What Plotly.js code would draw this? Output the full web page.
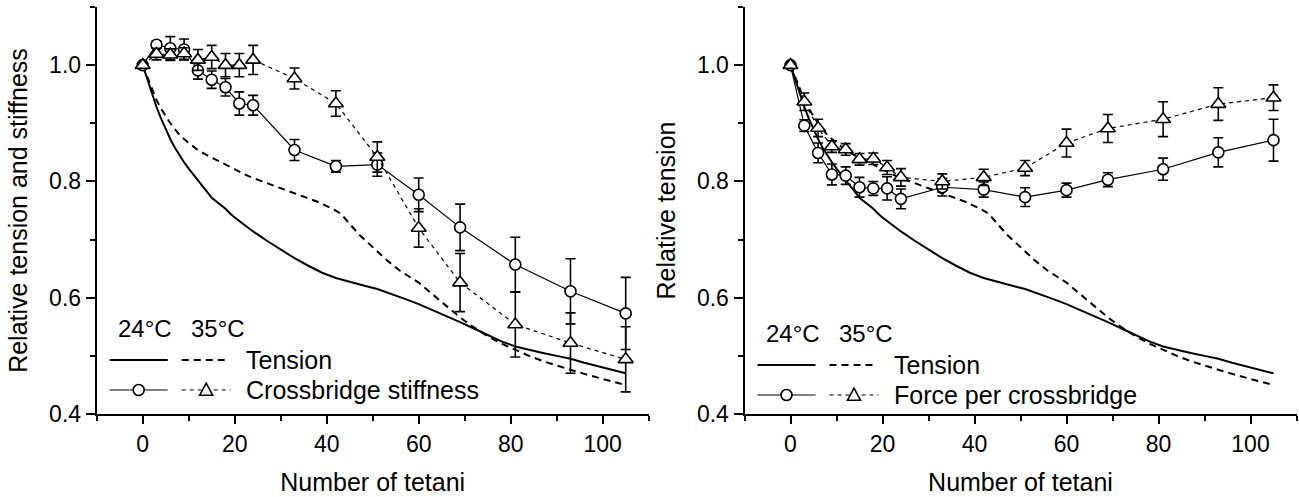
<!DOCTYPE html>
<html>
<head>
<meta charset="utf-8">
<script src="https://cdn.plot.ly/plotly-3.0.1.min.js"></script>
<style>html,body{margin:0;padding:0;background:#fff;}#chart{width:1299px;height:497px;}</style>
</head>
<body>
<div id="chart"></div>
<script>
// ---- data ----
const tetani = [0,3,6,9,12,15,18,21,24,33,42,51,60,69,81,93,105];

const stiffness24 = [1.0,1.035,1.029,1.027,0.991,0.975,0.962,0.934,0.931,0.854,0.826,0.829,0.777,0.721,0.657,0.611,0.573];
const stiffness24Err = [0.004,0.006,0.02,0.018,0.015,0.015,0.015,0.02,0.017,0.018,0.01,0.02,0.029,0.04,0.047,0.056,0.062];
const stiffness35 = [1.0,1.019,1.018,1.02,1.009,1.014,1.0,1.0,1.009,0.977,0.934,0.842,0.72,0.626,0.554,0.522,0.494];
const stiffness35Err = [0.004,0.01,0.01,0.01,0.018,0.02,0.02,0.02,0.025,0.018,0.022,0.026,0.033,0.05,0.056,0.052,0.056];

const force24 = [1.0,0.896,0.849,0.812,0.810,0.790,0.788,0.788,0.770,0.790,0.786,0.773,0.785,0.803,0.821,0.850,0.871];
const force24Err = [0.004,0.01,0.017,0.018,0.015,0.017,0.012,0.02,0.017,0.015,0.013,0.016,0.012,0.012,0.019,0.025,0.036];
const force35 = [1.0,0.937,0.892,0.86,0.855,0.838,0.839,0.824,0.807,0.80,0.807,0.823,0.866,0.891,0.907,0.933,0.944];
const force35Err = [0.004,0.015,0.015,0.01,0.01,0.01,0.01,0.012,0.015,0.013,0.014,0.013,0.024,0.024,0.03,0.028,0.022];

const tension24X = [0,1,2,3,4,5,6,7,8,9,10,12,14,15,16,17,18,19,20,22,24,27,30,33,36,39,42,45,48,51,54,57,60,63,66,69,72,75,78,81,84,87,90,93,96,99,102,105];
const tension24 = [1.0,0.975,0.95,0.928,0.908,0.89,0.873,0.858,0.845,0.833,0.822,0.803,0.782,0.772,0.766,0.76,0.753,0.745,0.738,0.726,0.714,0.698,0.683,0.668,0.655,0.643,0.634,0.627,0.621,0.615,0.607,0.598,0.589,0.579,0.569,0.558,0.547,0.536,0.525,0.516,0.51,0.505,0.5,0.495,0.488,0.482,0.476,0.47];
const tension35X = [0,1,2,3,4,5,6,7,8,10,12,14,16,18,20,23,26,29,32,35,38,41,43,45,47,50,53,56,60,63,66,69,72,75,78,81,84,87,90,93,96,99,102,105];
const tension35 = [1.0,0.98,0.96,0.94,0.925,0.912,0.90,0.89,0.88,0.866,0.854,0.845,0.837,0.829,0.82,0.809,0.80,0.791,0.782,0.773,0.765,0.754,0.745,0.727,0.709,0.687,0.665,0.646,0.626,0.606,0.586,0.566,0.549,0.534,0.521,0.51,0.50,0.491,0.483,0.476,0.469,0.462,0.456,0.45];

const xTitle = 'Number of tetani';
const yTitleLeft = 'Relative tension and stiffness';
const yTitleRight = 'Relative tension';
const tempLabels = ['24°C', '35°C'];
const legendLeft = ['Tension', 'Crossbridge stiffness'];
const legendRight = ['Tension', 'Force per crossbridge'];

// ---- styling / layout ----
const W = 1299, H = 497;
const FONT = 'Liberation Sans, Arial, Helvetica, sans-serif';
const plotTop = 7, plotBottom = 414;
const px = v => v / W;
const py = v => (plotBottom - v) / (plotBottom - plotTop);

function tensionTraces(xa, ya) {
  return [
    {x: tension24X, y: tension24, xaxis: xa, yaxis: ya, mode: 'lines', line: {color: '#000', width: 2}, hoverinfo: 'skip'},
    {x: tension35X, y: tension35, xaxis: xa, yaxis: ya, mode: 'lines', line: {color: '#000', width: 2, dash: '7px,5px'}, hoverinfo: 'skip'}
  ];
}
function seriesTrace(xa, ya, y, err, symbol, dash) {
  return {
    x: tetani, y: y, xaxis: xa, yaxis: ya, mode: 'lines+markers',
    line: {color: '#000', width: 1.2, dash: dash},
    marker: {symbol: symbol, size: symbol === 'circle' ? 11 : 13, color: '#fff', line: {color: '#000', width: 1.6}},
    error_y: {type: 'data', array: err, visible: true, color: '#000', thickness: 1.6, width: 5}
  };
}

const data = [
  ...tensionTraces('x', 'y'),
  seriesTrace('x', 'y', stiffness24, stiffness24Err, 'circle', 'solid'),
  seriesTrace('x', 'y', stiffness35, stiffness35Err, 'triangle-up', '4px,4px'),
  ...tensionTraces('x2', 'y2'),
  seriesTrace('x2', 'y2', force24, force24Err, 'circle', 'solid'),
  seriesTrace('x2', 'y2', force35, force35Err, 'triangle-up', '4px,4px')
];

function xAxis(domain, anchor) {
  return {
    domain: domain, anchor: anchor, range: [-10, 110], autorange: false,
    showline: true, linecolor: '#000', linewidth: 2, showgrid: false, zeroline: false,
    ticks: 'outside', ticklen: 8, tickwidth: 2, tickcolor: '#000', tick0: 0, dtick: 20,
    minor: {ticks: 'outside', ticklen: 5, tickwidth: 2, tickcolor: '#000', tick0: 0, dtick: 10, showgrid: false},
    tickfont: {family: FONT, size: 23, color: '#000'},
    title: {text: xTitle, font: {family: FONT, size: 25, color: '#000'}, standoff: 18},
    automargin: false
  };
}
function yAxis(anchor, title) {
  return {
    domain: [0, 1], anchor: anchor, range: [0.4, 1.1], autorange: false,
    showline: true, linecolor: '#000', linewidth: 2, showgrid: false, zeroline: false,
    ticks: 'outside', ticklen: 9, tickwidth: 2, tickcolor: '#000', tick0: 0.4, dtick: 0.2, tickformat: '.1f',
    minor: {ticks: 'outside', ticklen: 5, tickwidth: 2, tickcolor: '#000', tick0: 0.4, dtick: 0.1, showgrid: false},
    tickfont: {family: FONT, size: 23, color: '#000'},
    title: {text: title, font: {family: FONT, size: 25, color: '#000'}, standoff: 14},
    automargin: false
  };
}

// legend drawn as shapes + annotations (pixel positions converted to paper)
const shapes = [], annotations = [];
function legendBlock(ax, rows, labels) {
  const sL = ax + 13, sR = ax + 71, dL = ax + 85, dR = ax + 134, txt = ax + 147;
  annotations.push({xref: 'paper', yref: 'paper', x: px(ax + 19), y: py(rows[0]), xanchor: 'left', yanchor: 'middle', text: tempLabels[0], showarrow: false, font: {family: FONT, size: 24, color: '#000'}});
  annotations.push({xref: 'paper', yref: 'paper', x: px(ax + 92), y: py(rows[0]), xanchor: 'left', yanchor: 'middle', text: tempLabels[1], showarrow: false, font: {family: FONT, size: 24, color: '#000'}});
  shapes.push({type: 'line', xref: 'paper', yref: 'paper', x0: px(sL), x1: px(sR), y0: py(rows[1]), y1: py(rows[1]), line: {color: '#000', width: 2}});
  shapes.push({type: 'line', xref: 'paper', yref: 'paper', x0: px(dL), x1: px(dR - 4), y0: py(rows[1]), y1: py(rows[1]), line: {color: '#000', width: 2, dash: '7px,5px'}});
  annotations.push({xref: 'paper', yref: 'paper', x: px(txt), y: py(rows[1]), xanchor: 'left', yanchor: 'middle', text: labels[0], showarrow: false, font: {family: FONT, size: 25, color: '#000'}});
  shapes.push({type: 'line', xref: 'paper', yref: 'paper', x0: px(sL), x1: px(sR), y0: py(rows[2]), y1: py(rows[2]), line: {color: '#000', width: 1.2}});
  const cx = (sL + sR) / 2, r = 5.5;
  shapes.push({type: 'circle', xref: 'paper', yref: 'paper', x0: px(cx - r), x1: px(cx + r), y0: py(rows[2] + r), y1: py(rows[2] - r), fillcolor: '#fff', line: {color: '#000', width: 1.6}});
  const tL = dL, tR = dR;
  shapes.push({type: 'line', xref: 'paper', yref: 'paper', x0: px(tL), x1: px(tR), y0: py(rows[2]), y1: py(rows[2]), line: {color: '#000', width: 1.2, dash: '4px,4px'}});
  const tx = (tL + tR) / 2, th = 6.5;
  shapes.push({type: 'path', xref: 'paper', yref: 'paper',
    path: 'M ' + px(tx - th) + ' ' + py(rows[2] + th * 0.8) + ' L ' + px(tx + th) + ' ' + py(rows[2] + th * 0.8) + ' L ' + px(tx) + ' ' + py(rows[2] - th * 1.05) + ' Z',
    fillcolor: '#fff', line: {color: '#000', width: 1.6}});
  annotations.push({xref: 'paper', yref: 'paper', x: px(txt), y: py(rows[2]), xanchor: 'left', yanchor: 'middle', text: labels[1], showarrow: false, font: {family: FONT, size: 25, color: '#000'}});
}
legendBlock(96.7, [328, 360, 390], legendLeft);
legendBlock(744.5, [333, 365, 395], legendRight);

const layout = {
  width: W, height: H,
  margin: {l: 0, r: 0, t: plotTop, b: H - plotBottom, pad: 0},
  paper_bgcolor: '#fff', plot_bgcolor: '#fff',
  showlegend: false,
  font: {family: FONT, color: '#000'},
  xaxis: xAxis([96.7 / W, 648.7 / W], 'y'),
  yaxis: yAxis('x', yTitleLeft),
  xaxis2: xAxis([744.5 / W, 1296.5 / W], 'y2'),
  yaxis2: yAxis('x2', yTitleRight),
  shapes: shapes,
  annotations: annotations
};

Plotly.newPlot('chart', data, layout, {staticPlot: true, displayModeBar: false});
</script>
</body>
</html>
